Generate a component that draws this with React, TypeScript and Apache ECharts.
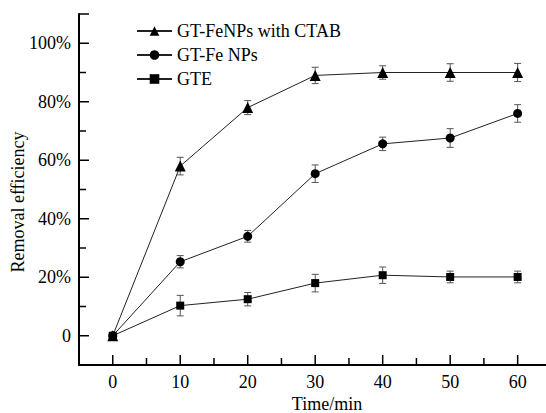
import React, { useEffect, useRef } from "react";
import * as echarts from "echarts";

const times = [0, 10, 20, 30, 40, 50, 60];
const ctabValues = [0, 58, 78, 89, 90, 90, 90];
const ctabErrors = [0, 3, 2.4, 2.8, 2.3, 3, 3.1];
const feValues = [0, 25.3, 34, 55.4, 65.6, 67.6, 76];
const feErrors = [0, 2.1, 2, 3, 2.3, 3.2, 3];
const gteValues = [0, 10.3, 12.5, 18, 20.7, 20.1, 20.1];
const gteErrors = [0, 3.5, 2.3, 3, 2.8, 2, 2];

const seriesNames = ["GT-FeNPs with CTAB", "GT-Fe NPs", "GTE"];
const xMajorTicks = [0, 10, 20, 30, 40, 50, 60];
const xMinorTicks = [5, 15, 25, 35, 45, 55];
const yLabelTicks = [0, 20, 40, 60, 80, 100];
const yMajorTicks = [0, 20, 40, 60, 80, 100, 110];
const yMinorTicks = [10, 30, 50, 70, 90];
const xTitle = "Time/min";
const yTitle = "Removal efficiency";

const FONT = "Liberation Serif";
const X_MIN = -5, X_MAX = 64.2, Y_MIN = -10, Y_MAX = 110;

function errorData(vals: number[], errs: number[]) {
  return times.map((t, i) => [t, vals[i] - errs[i], vals[i] + errs[i]]);
}

function renderError(params: any, api: any) {
  const x = api.value(0);
  const lo = api.value(1);
  const hi = api.value(2);
  if (hi - lo <= 0) return null;
  const top = api.coord([x, hi]);
  const bot = api.coord([x, lo]);
  const w = 3.5;
  const style = { stroke: "#555", lineWidth: 1 };
  return {
    type: "group",
    children: [
      { type: "line", shape: { x1: top[0], y1: top[1], x2: bot[0], y2: bot[1] }, style },
      { type: "line", shape: { x1: top[0] - w, y1: top[1], x2: top[0] + w, y2: top[1] }, style },
      { type: "line", shape: { x1: bot[0] - w, y1: bot[1], x2: bot[0] + w, y2: bot[1] }, style },
    ],
  };
}

function tickSeries(values: number[], dir: "x" | "y", len: number) {
  return {
    type: "custom",
    silent: true,
    z: 1,
    data: values.map((v) => (dir === "x" ? [v, Y_MIN] : [X_MIN, v])),
    encode: { x: 0, y: 1 },
    renderItem: (params: any, api: any) => {
      const p = api.coord([api.value(0), api.value(1)]);
      const shape =
        dir === "x"
          ? { x1: p[0], y1: p[1], x2: p[0], y2: p[1] - len }
          : { x1: p[0], y1: p[1], x2: p[0] + len, y2: p[1] };
      return { type: "line", shape, style: { stroke: "#000", lineWidth: 1.5 } };
    },
  };
}

export default function App() {
  const ref = useRef<HTMLDivElement>(null);
  useEffect(() => {
    if (!ref.current) return;
    const chart = echarts.init(ref.current, null, { renderer: "svg" });
    const lineSeries = (name: string, vals: number[], symbol: string, size: number) => ({
      name,
      type: "line",
      data: times.map((t, i) => [t, vals[i]]),
      symbol,
      symbolSize: size,
      showAllSymbol: true,
      lineStyle: { color: "#222", width: 1 },
      itemStyle: { color: "#000" },
      z: 3,
    });
    const errSeries = (vals: number[], errs: number[]) => ({
      type: "custom",
      renderItem: renderError,
      data: errorData(vals, errs),
      encode: { x: 0, y: [1, 2] },
      silent: true,
      z: 2,
    });
    const axisText = { color: "#000", fontSize: 18, fontFamily: FONT };
    chart.setOption({
      animation: false,
      backgroundColor: "#fff",
      textStyle: { fontFamily: FONT },
      grid: { left: 79, right: 0, top: 14, bottom: 48, containLabel: false },
      legend: {
        orient: "vertical",
        left: 131,
        top: 17,
        itemWidth: 35,
        itemHeight: 12,
        itemGap: 6,
        data: seriesNames,
        textStyle: { color: "#000", fontSize: 18, fontFamily: FONT, lineHeight: 18 },
      },
      xAxis: {
        type: "value",
        min: X_MIN,
        max: X_MAX,
        axisLine: { show: true, onZero: false, lineStyle: { color: "#000", width: 2 } },
        axisTick: { show: false },
        axisLabel: { ...axisText, margin: 8, customValues: xMajorTicks },
        splitLine: { show: false },
      },
      yAxis: {
        type: "value",
        min: Y_MIN,
        max: Y_MAX,
        axisLine: { show: true, onZero: false, lineStyle: { color: "#000", width: 2 } },
        axisTick: { show: false },
        axisLabel: {
          ...axisText,
          margin: 8,
          customValues: yLabelTicks,
          formatter: (v: number) => (v === 0 ? "0" : v + "%"),
        },
        splitLine: { show: false },
      },
      graphic: [
        {
          type: "text",
          x: 327,
          y: 404,
          style: { text: xTitle, fill: "#000", fontSize: 18, fontFamily: FONT, align: "center", verticalAlign: "middle" },
        },
        {
          type: "text",
          x: 18,
          y: 202,
          rotation: Math.PI / 2,
          style: { text: yTitle, fill: "#000", fontSize: 18, fontFamily: FONT, align: "center", verticalAlign: "middle" },
        },
      ],
      series: [
        tickSeries(xMajorTicks, "x", 10),
        tickSeries(xMinorTicks, "x", 7),
        tickSeries(yMajorTicks, "y", 10),
        tickSeries(yMinorTicks, "y", 7),
        errSeries(ctabValues, ctabErrors),
        errSeries(feValues, feErrors),
        errSeries(gteValues, gteErrors),
        lineSeries(seriesNames[0], ctabValues, "triangle", 11),
        lineSeries(seriesNames[1], feValues, "circle", 9),
        lineSeries(seriesNames[2], gteValues, "rect", 8),
      ],
    });
    return () => chart.dispose();
  }, []);
  return <div ref={ref} style={{ width: 546, height: 413, position: "fixed", left: 0, top: 0 }} />;
}
